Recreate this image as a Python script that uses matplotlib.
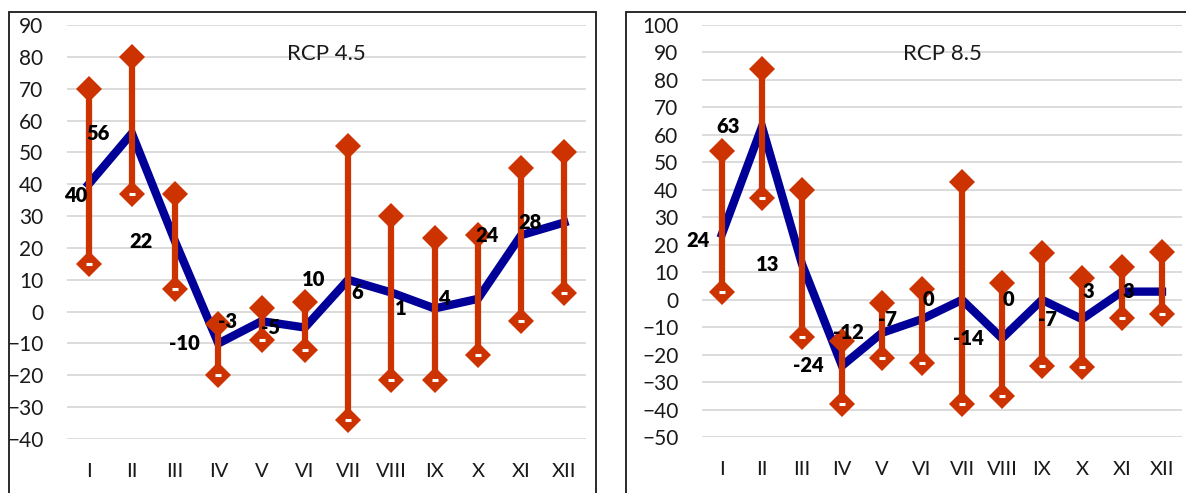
import numpy as np
import matplotlib
matplotlib.use("Agg")
import matplotlib.pyplot as plt
from matplotlib.patches import Rectangle

plt.rcParams["font.family"] = ["Lato", "DejaVu Sans"]

# Month labels
months = ["I", "II", "III", "IV", "V", "VI", "VII", "VIII", "IX", "X", "XI", "XII"]

# RCP 4.5: mean change and min/max range
rcp45_mean = [40, 56, 22, -10, -3, -5, 10, 6, 1, 4, 24, 28]
rcp45_high = [70, 80, 37, -4, 1, 3, 52, 30, 23, 24, 45, 50]
rcp45_low = [15, 37, 7, -20, -9, -12, -34, -21.5, -21.5, -13.5, -3, 6]

# RCP 8.5: mean change and min/max range
rcp85_mean = [24, 63, 13, -24, -12, -7, 0, -14, 0, -7, 3, 3]
rcp85_high = [54, 84, 40, -15, -1, 4, 43, 6, 17, 8, 12, 17.5]
rcp85_low = [3, 37, -13.5, -38, -21, -23, -38, -35, -24, -24.5, -6.5, -5]

BLUE = "#000099"
ORANGE = "#CC3300"
GRID = "#D9D9D9"

W, H = 1186, 493
fig = plt.figure(figsize=(W / 100, H / 100), dpi=100)


def px_box(x0, x1, y_top, y_bot):
    """axes rect from pixel coords"""
    return [x0 / W, 1 - y_bot / H, (x1 - x0) / W, (y_bot - y_top) / H]


def draw_panel(rect, title, mean, high, low, ylim, step, first_offset):
    ax = fig.add_axes(rect)
    x = np.arange(len(months))

    ax.plot(x, mean, color=BLUE, lw=6, zorder=3, solid_joinstyle="miter")
    ax.vlines(x, low, high, color=ORANGE, lw=4.5, zorder=4)
    ax.plot(x, high, "D", color=ORANGE, ms=12.8, mew=0, zorder=5, clip_on=False)
    ax.plot(x, low, "D", color=ORANGE, ms=12.8, mew=0, zorder=5, clip_on=False)
    ax.plot(x, low, "_", color="white", ms=4, mew=2.2, zorder=6, clip_on=False)

    # data labels sit to the left of the points
    for i, v in enumerate(mean):
        off = first_offset if i == 0 else (-24.5, 0)
        ax.annotate(str(v), (x[i], v), xytext=off, textcoords="offset points",
                    ha="center", va="center", fontsize=14.5, fontweight="heavy",
                    color="black", zorder=7)

    ax.set_xlim(-0.5, len(months) - 0.5)
    ax.set_ylim(*ylim)
    ax.set_yticks(np.arange(ylim[0], ylim[1] + 1, step))
    ax.set_xticks(x)
    ax.set_xticklabels(months)
    ax.grid(axis="y", color=GRID, lw=1.3)
    ax.set_axisbelow(True)
    for s in ax.spines.values():
        s.set_visible(False)
    ax.tick_params(axis="y", length=0, pad=17, labelsize=15, colors="#1a1a1a")
    ax.tick_params(axis="x", length=0, pad=17, labelsize=14.5, colors="#1a1a1a")
    ax.text(0.5, 0.93, title, transform=ax.transAxes, ha="center", va="center",
            fontsize=16, color="#1a1a1a")
    return ax


draw_panel(px_box(67, 586, 25, 439), "RCP 4.5", rcp45_mean, rcp45_high, rcp45_low,
           (-40, 90), 10, (-9, -8))
draw_panel(px_box(702, 1182, 25, 437.3), "RCP 8.5", rcp85_mean, rcp85_high, rcp85_low,
           (-50, 100), 10, (-17, -4.5))

# chart frames
for x0, x1 in [(9, 596), (626, 1200)]:
    fig.add_artist(Rectangle((x0 / W, -0.05), (x1 - x0) / W, 1.05 - 12 / H,
                             transform=fig.transFigure, fill=False,
                             edgecolor="#1a1a1a", lw=1.3, zorder=0))

fig.savefig("out.png", dpi=100)
